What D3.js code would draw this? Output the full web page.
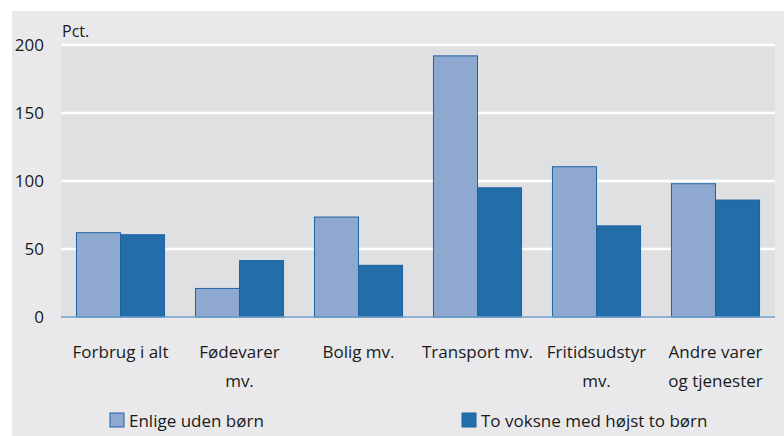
<!DOCTYPE html>
<meta charset="utf-8">
<style>
body { margin: 0; background: #fff; }
text { font-family: "Open Sans", sans-serif; fill: #1a1a1a; }
</style>
<body>
<script src="https://d3js.org/d3.v7.min.js"></script>
<script>

var categories = [["Forbrug i alt"], ["Fødevarer", "mv."], ["Bolig mv."], ["Transport mv."], ["Fritidsudstyr", "mv."], ["Andre varer", "og tjenester"]];
var seriesNames = ["Enlige uden børn", "To voksne med højst to børn"];
var enlige = [62, 21, 73.5, 192, 110.5, 98];
var toVoksne = [60.5, 41.5, 38, 95, 67, 86];
var yTicks = [0, 50, 100, 150, 200];
var colors = ["#8fa8cf", "#236ea9"];

var W = 784, H = 436;
var plot = {left: 61, right: 775, top: 45, bottom: 317};

var svg = d3.select("body").append("svg")
    .attr("width", W)
    .attr("height", H);

// panel backgrounds
svg.append("rect").attr("x", 12).attr("y", 11).attr("width", W - 12).attr("height", H - 11).attr("fill", "#e9e9eb");
svg.append("rect").attr("x", plot.left).attr("y", plot.top).attr("width", plot.right - plot.left)
    .attr("height", plot.bottom - plot.top).attr("fill", "#dfe0e2");

var x0 = d3.scaleBand()
    .domain(d3.range(categories.length))
    .range([plot.left, plot.right])
    .paddingInner(0.26)
    .paddingOuter(0.13);

var x1 = d3.scaleBand()
    .domain([0, 1])
    .range([0, x0.bandwidth()]);

var y = d3.scaleLinear()
    .domain([0, 200])
    .range([plot.bottom, plot.top]);

// grid lines
svg.selectAll(".grid")
    .data(yTicks.filter(function(d) { return d > 0; }))
  .enter().append("line")
    .attr("x1", plot.left)
    .attr("x2", plot.right)
    .attr("y1", function(d) { return y(d); })
    .attr("y2", function(d) { return y(d); })
    .attr("stroke", "#fff")
    .attr("stroke-width", 2.5);

// y axis labels
svg.selectAll(".ylab")
    .data(yTicks)
  .enter().append("text")
    .attr("x", 44)
    .attr("y", function(d) { return y(d); })
    .attr("dy", "0.35em")
    .attr("text-anchor", "end")
    .attr("font-size", 17)
    .text(function(d) { return d; });

svg.append("text")
    .attr("x", 62)
    .attr("y", 37)
    .attr("font-size", 16)
    .text("Pct.");

// bars
var series = [enlige, toVoksne];
series.forEach(function(vals, s) {
  svg.selectAll(".bar" + s)
      .data(vals)
    .enter().append("rect")
      .attr("x", function(d, i) { return x0(i) + x1(s); })
      .attr("width", x1.bandwidth())
      .attr("y", function(d) { return y(d); })
      .attr("height", function(d) { return y(0) - y(d); })
      .attr("fill", colors[s])
      .attr("stroke", "#1d63a3")
      .attr("stroke-width", 1);
});

// zero line
svg.append("line")
    .attr("x1", plot.left).attr("x2", plot.right)
    .attr("y1", y(0)).attr("y2", y(0))
    .attr("stroke", "#6f9fc9").attr("stroke-width", 1.5);

// category labels
var cat = svg.selectAll(".cat")
    .data(categories)
  .enter().append("text")
    .attr("text-anchor", "middle")
    .attr("font-size", 17);

cat.selectAll("tspan")
    .data(function(d, i) { return d.map(function(t) { return {t: t, i: i}; }); })
  .enter().append("tspan")
    .attr("x", function(d) { return x0(d.i) + x0.bandwidth() / 2; })
    .attr("y", function(d, j) { return 358 + j * 29; })
    .text(function(d) { return d.t; });

// legend
var legendX = [110, 462];
var legend = svg.selectAll(".legend")
    .data(seriesNames)
  .enter().append("g")
    .attr("transform", function(d, i) { return "translate(" + legendX[i] + ",413)"; });

legend.append("rect")
    .attr("width", 14)
    .attr("height", 14)
    .attr("fill", function(d, i) { return colors[i]; })
    .attr("stroke", "#1d63a3");

legend.append("text")
    .attr("x", 19)
    .attr("y", 14)
    .attr("font-size", 17)
    .text(function(d) { return d; });

</script>
